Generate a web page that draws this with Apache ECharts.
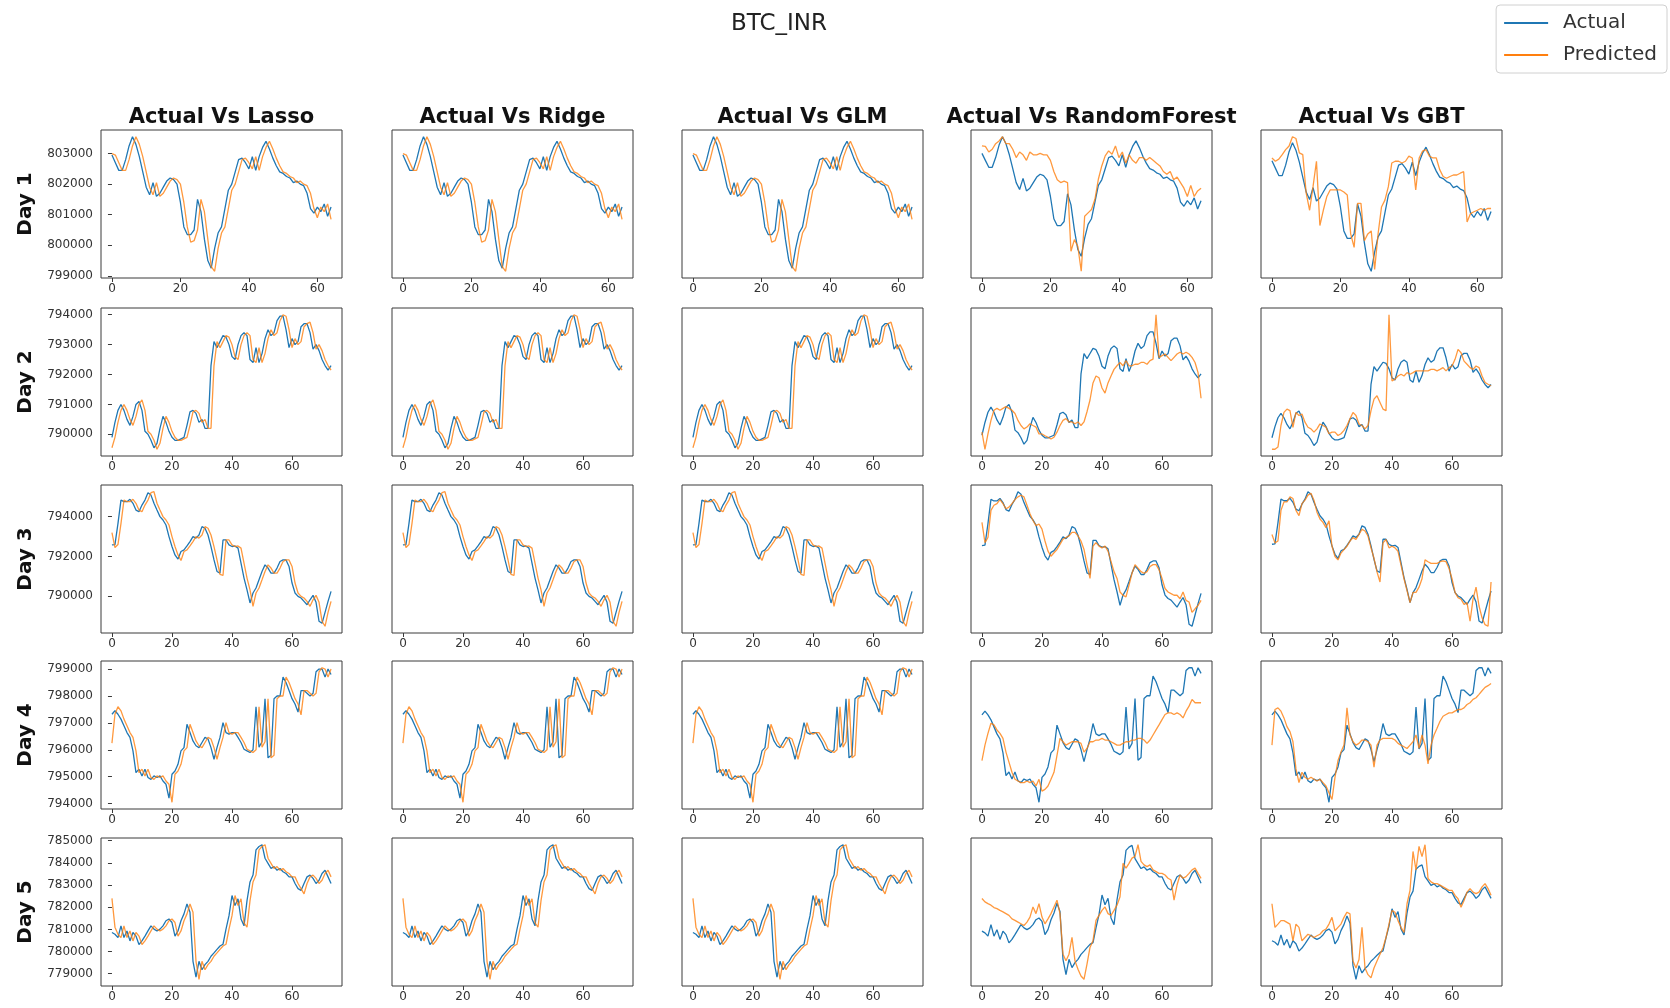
<!DOCTYPE html>
<html><head><meta charset="utf-8">
<script src="https://cdn.jsdelivr.net/npm/echarts@6/dist/echarts.min.js"></script>
<style>html,body{margin:0;padding:0;background:#fff}#c{width:1670px;height:1008px}</style>
</head><body><div id="c"></div><script>
const chartTitle = 'BTC_INR';
const days = ['Day 1', 'Day 2', 'Day 3', 'Day 4', 'Day 5'];
const models = ['Lasso', 'Ridge', 'GLM', 'RandomForest', 'GBT'];
const xTicks = [0, 20, 40, 60];
const yTicks = [
  [799000, 800000, 801000, 802000, 803000],
  [790000, 791000, 792000, 793000, 794000],
  [790000, 792000, 794000],
  [794000, 795000, 796000, 797000, 798000, 799000],
  [779000, 780000, 781000, 782000, 783000, 784000, 785000]
];

const actualDay1 = [802950, 802700, 802450, 802450, 802800, 803250, 803550, 803300, 802900, 802400,
 801900, 801650, 802050, 801600, 801700, 801900, 802100, 802200, 802150, 802000,
 801400, 800600, 800350, 800350, 800500, 801500, 801100, 800200, 799500, 799250,
 799900, 800400, 800600, 801200, 801800, 802000, 802400, 802800, 802850, 802700,
 802500, 802900, 802450, 802900, 803200, 803400, 803150, 802850, 802600, 802400,
 802350, 802250, 802200, 802050, 802100, 802000, 801950, 801700, 801200, 801050,
 801250, 801100, 801350, 800950, 801250];
const linearDay1 = [803000, 802950, 802700, 802450, 802450, 802800, 803250, 803550, 803300, 802900,
 802400, 801900, 801650, 802050, 801600, 801700, 801900, 802100, 802200, 802150,
 802000, 801400, 800600, 800100, 800150, 800500, 801500, 801100, 800200, 799300,
 799150, 799900, 800400, 800600, 801200, 801800, 802000, 802400, 802800, 802850,
 802700, 802500, 802900, 802450, 802900, 803200, 803400, 803150, 802850, 802600,
 802400, 802350, 802250, 802200, 802050, 802100, 802000, 801950, 801700, 801200,
 800900, 801250, 801100, 801350, 800850];
const rfDay1 = [803220, 803200, 803000, 803100, 803300, 803400, 803550, 803300, 803300, 803100,
 802800, 803000, 802900, 802700, 803000, 802900, 802900, 802950, 802900, 802900,
 802700, 802300, 802000, 801900, 801950, 801900, 799430, 799850, 799610, 798710,
 800690, 800810, 800930, 801300, 802020, 802500, 802860, 803040, 802920, 803220,
 802800, 803000, 802600, 802900, 802700, 802600, 802800, 802800, 802700, 802800,
 802700, 802600, 802500, 802300, 802200, 802300, 802000, 802100, 801900, 801700,
 801400, 801800, 801400, 801600, 801700];
const gbtDay1 = [803040, 802930, 803000, 803150, 803320, 803440, 803750, 803690, 803210, 803150,
 801860, 801290, 802080, 802930, 800780, 801290, 801740, 801970, 801970, 801970,
 801970, 801900, 801800, 800500, 800050, 801520, 801520, 800270, 800500, 800600,
 799310, 800500, 801400, 801630, 802080, 802870, 802930, 802930, 802870, 802930,
 803100, 803040, 801970, 803040, 803270, 803320, 803100, 803040, 803040, 802650,
 802420, 802360, 802420, 802470, 802470, 802530, 802580, 800900, 801180, 801240,
 801290, 801350, 801290, 801350, 801350];

const actualDay2 = [789900, 790400, 790800, 791000, 790800, 790500, 790300, 790600, 791000, 791100,
 790800, 790100, 790000, 789800, 789550, 789700, 790200, 790600, 790400, 790100,
 789900, 789800, 789800, 789850, 789900, 790300, 790750, 790800, 790700, 790400,
 790500, 790200, 790200, 792300, 793100, 792900, 793100, 793300, 793250, 793000,
 792600, 792500, 793000, 793300, 793400, 793300, 792500, 792400, 792900, 792400,
 792700, 793200, 793500, 793300, 793400, 793800, 793950, 793950, 793500, 792900,
 793200, 793000, 793100, 793600, 793700, 793700, 793400, 792850, 793000, 792800,
 792500, 792300, 792150, 792300];
const linearDay2 = [789550, 789900, 790400, 790800, 791000, 790800, 790500, 790300, 790600, 791000,
 791150, 790800, 790100, 790000, 789800, 789500, 789700, 790200, 790600, 790400,
 790100, 789900, 789800, 789800, 789850, 789900, 790300, 790750, 790800, 790700,
 790400, 790500, 790200, 790200, 792300, 793100, 792900, 793100, 793300, 793250,
 793000, 792600, 792500, 793000, 793300, 793400, 793300, 792500, 792400, 792900,
 792400, 792700, 793200, 793500, 793300, 793400, 793800, 794000, 793950, 793500,
 792900, 793200, 793000, 793100, 793600, 793700, 793750, 793400, 792850, 793000,
 792800, 792500, 792300, 792150];
const rfDay2 = [790020, 789350, 789950, 790480, 790880, 790950, 790880, 790950, 791020, 790950,
 790880, 790750, 790480, 790280, 790150, 790220, 790350, 790280, 790220, 789950,
 789950, 789880, 789820, 789750, 789820, 790020, 790280, 790480, 790550, 790420,
 790420, 790350, 790420, 790280, 790420, 790820, 791280, 791950, 792220, 792150,
 791750, 791550, 791950, 792220, 792480, 792620, 792750, 792620, 792820, 792620,
 792620, 792680, 792680, 792750, 792750, 792680, 792820, 792880, 794620, 792950,
 793020, 793080, 792950, 792820, 792950, 793080, 793150, 793080, 793150, 793080,
 792950, 792750, 792350, 791350];
const gbtDay2 = [789380, 789380, 789480, 790450, 791040, 791190, 791120, 790370, 791040, 790900,
 790970, 790600, 790370, 790300, 790150, 790300, 790520, 790450, 790370, 790080,
 790150, 790150, 790000, 790080, 790230, 790450, 790750, 791040, 790900, 790520,
 790450, 790300, 790450, 791120, 791640, 791790, 791490, 791190, 791120, 795440,
 792460, 792540, 792680, 792760, 792680, 792830, 792760, 792830, 792910, 792910,
 792910, 792910, 792910, 792980, 792980, 792910, 792980, 793060, 792910, 793060,
 793130, 793430, 793880, 793730, 793350, 793210, 793060, 792980, 793130, 793060,
 792680, 792390, 792310, 792240];

const actualDay3 = [792580, 792600, 793650, 794830, 794750, 794750, 794870, 794670, 794330, 794250,
 794580, 794830, 795200, 795080, 794670, 794330, 794000, 793830, 793580, 793000,
 792500, 792080, 791870, 792250, 792330, 792530, 792750, 793000, 792920, 793080,
 793500, 793420, 793080, 792500, 791830, 791250, 791170, 792830, 792830, 792580,
 792500, 792530, 792420, 791670, 790920, 790330, 789670, 790170, 790420, 790830,
 791250, 791580, 791420, 791170, 791170, 791420, 791750, 791830, 791830, 791500,
 790670, 790170, 790000, 789920, 789750, 789580, 789830, 790050, 789700, 788750,
 788650, 789200, 789750, 790250];
const linearDay3 = [793200, 792450, 792600, 793650, 794830, 794750, 794750, 794870, 794670, 794330,
 794250, 794580, 794830, 795200, 795250, 794670, 794330, 794000, 793830, 793580,
 793000, 792500, 792080, 791800, 792250, 792330, 792530, 792750, 793000, 792920,
 793080, 793500, 793420, 793080, 792500, 791830, 791100, 791050, 792830, 792830,
 792580, 792500, 792530, 792420, 791670, 790920, 790330, 789500, 790170, 790420,
 790830, 791250, 791580, 791420, 791170, 791170, 791420, 791750, 791830, 791830,
 791500, 790670, 790170, 790000, 789920, 789750, 789500, 789830, 790050, 789700,
 788750, 788500, 789200, 789750];
const rfDay3 = [793710, 792720, 792970, 794290, 794540, 794620, 794820, 794620, 794370, 794450,
 794620, 794820, 794950, 795030, 794950, 794540, 794130, 793800, 793550, 793630,
 793380, 792800, 792310, 792060, 792230, 792390, 792640, 792890, 792970, 793050,
 793220, 793220, 793050, 792800, 792390, 791650, 790980, 792550, 792720, 792550,
 792470, 792550, 792310, 791810, 791310, 790980, 790320, 790160, 790080, 790650,
 791230, 791650, 791480, 791310, 791230, 791310, 791560, 791650, 791650, 791400,
 790980, 790490, 790320, 790240, 790160, 790160, 789990, 790320, 789910, 789830,
 789330, 789500, 789660, 789910];
const gbtDay3 = [793070, 792650, 792740, 794270, 794690, 794690, 794950, 794860, 794270, 794010,
 794610, 794780, 795030, 795120, 794780, 794180, 793840, 793670, 793410, 793750,
 792480, 791970, 791800, 792140, 792310, 792480, 792740, 792910, 792820, 793070,
 793330, 793240, 792990, 792400, 791880, 791200, 790700, 792650, 792820, 792400,
 792480, 792400, 792230, 791540, 790860, 790270, 789670, 790180, 790180, 790440,
 790860, 791800, 791710, 791630, 791630, 791630, 791710, 791750, 791710, 791370,
 790860, 790180, 789920, 789840, 789580, 789670, 788740, 789840, 790440, 789500,
 788910, 788570, 788490, 790700];

const actualDay4 = [797320, 797450, 797320, 797140, 796890, 796640, 796460, 795960, 795150, 795280,
 795030, 795280, 794970, 794900, 795030, 794970, 795030, 794840, 794720, 794200,
 795090, 795210, 795460, 795960, 796080, 796950, 796640, 796330, 796150, 796080,
 796270, 796460, 796400, 796080, 795650, 796080, 796460, 797010, 796640, 796580,
 796640, 796640, 796460, 796270, 796020, 795960, 795900, 796000, 797600, 796100,
 796300, 797900, 795700, 795800, 797900, 798000, 798000, 798700, 798500, 798200,
 797900, 797700, 797400, 798200, 798200, 798100, 798000, 798100, 798900, 799000,
 799000, 798700, 799000, 798800];
const linearDay4 = [796250, 797320, 797600, 797450, 797140, 796890, 796640, 796460, 795960, 795150,
 795280, 795030, 795280, 794970, 794900, 795030, 794970, 795030, 794840, 794720,
 794050, 795090, 795210, 795460, 795960, 796080, 796950, 796640, 796330, 796150,
 796080, 796270, 796460, 796400, 796080, 795650, 796080, 796460, 797010, 796640,
 796580, 796640, 796640, 796460, 796270, 796020, 795960, 795900, 796000, 797600,
 796100, 796300, 797900, 795700, 795800, 797900, 798000, 798000, 798700, 798500,
 798200, 797900, 797700, 797300, 798200, 798200, 798100, 798000, 798100, 798900,
 799050, 799000, 798700, 799000];
const rfDay4 = [795690, 796240, 796660, 797020, 796960, 796780, 796660, 796480, 795990, 795630,
 795270, 795020, 794960, 794900, 794900, 794960, 794900, 794960, 794780, 795020,
 794600, 794660, 794780, 795020, 795270, 795870, 796480, 796360, 796240, 796300,
 796360, 796360, 796360, 796300, 795990, 796120, 796360, 796360, 796420, 796420,
 796480, 796420, 796420, 796360, 796300, 796240, 796240, 796300, 796360, 796360,
 796420, 796420, 796480, 796480, 796420, 796300, 796420, 796600, 796780, 796960,
 797150, 797330, 797390, 797390, 797330, 797390, 797330, 797210, 797450, 797630,
 797870, 797750, 797750, 797750];
const gbtDay4 = [796240, 797510, 797570, 797450, 797210, 796900, 796720, 796360, 795390, 794900,
 795270, 795090, 795020, 795090, 795020, 794960, 795020, 794900, 794780, 794540,
 794300, 795090, 795690, 795990, 796240, 797570, 796600, 796360, 796240, 796300,
 796420, 796420, 796360, 796240, 795450, 796240, 796420, 796480, 796480, 796480,
 796480, 796420, 796300, 796240, 796180, 796120, 796240, 796360, 796600, 796120,
 796600, 796240, 795570, 796240, 796600, 796840, 797090, 797270, 797330, 797390,
 797390, 797450, 797510, 797510, 797570, 797690, 797750, 797870, 797930, 798050,
 798180, 798300, 798360, 798440];

const actualDay5 = [780860, 780780, 780630, 781160, 780630, 780930, 780480, 780860, 780700, 780320,
 780480, 780700, 780930, 781160, 781010, 780930, 781010, 781160, 781390, 781470,
 781310, 780700, 780930, 781390, 781700, 782150, 781770, 779560, 778850, 779560,
 779180, 779410, 779560, 779790, 779940, 780100, 780250, 780330, 781010, 781620,
 782530, 782080, 782380, 781470, 781160, 782300, 783140, 783450, 784590, 784740,
 784820, 784210, 783980, 783750, 783830, 783670, 783750, 783600, 783520, 783370,
 783370, 783070, 782840, 782760, 783070, 783370, 783450, 783300, 783070, 783220,
 783520, 783670, 783370, 783070];
const linearDay5 = [782400, 781100, 780780, 780630, 781160, 780630, 780930, 780480, 780860, 780700,
 780320, 780480, 780700, 780930, 781160, 781010, 780930, 781010, 781160, 781390,
 781470, 781310, 780700, 780930, 781390, 781700, 782150, 781770, 779560, 778750,
 779560, 779180, 779410, 779560, 779790, 779940, 780100, 780250, 780330, 781010,
 781620, 782530, 782080, 782380, 781300, 781100, 782300, 783140, 783450, 784590,
 784740, 784820, 784210, 783980, 783750, 783830, 783670, 783750, 783600, 783520,
 783370, 783370, 783070, 782840, 782600, 783070, 783370, 783450, 783300, 783070,
 783220, 783520, 783670, 783370];
const rfDay5 = [782370, 782210, 782130, 782060, 781950, 781900, 781820, 781750, 781670, 781590,
 781430, 781360, 781280, 781200, 781120, 781280, 781510, 781980, 781670, 782130,
 781510, 781200, 781430, 781670, 781980, 782290, 781670, 779800, 779490, 779800,
 780580, 779490, 779100, 778790, 778640, 779340, 780110, 780420, 781360, 781590,
 781820, 781980, 781670, 781590, 781820, 782060, 782450, 783990, 783770, 783990,
 784230, 784310, 784850, 784080, 783920, 783840, 783920, 783690, 783610, 783530,
 783530, 783450, 783300, 783220, 782290, 782990, 783450, 783300, 783380, 783530,
 783690, 783770, 783530, 783300];
const gbtDay5 = [782790, 781560, 781730, 781910, 781910, 781820, 781730, 780850, 781730, 781560,
 780850, 781030, 781200, 781120, 781030, 781120, 781200, 781380, 781470, 781730,
 782080, 781380, 781560, 781730, 782080, 782350, 782260, 779800, 779440, 779880,
 781560, 779440, 779090, 778920, 779440, 779800, 780150, 780500, 781030, 781730,
 782440, 782350, 781910, 781560, 781290, 782790, 783490, 785520, 784550, 785780,
 785250, 785870, 784110, 783930, 783840, 783840, 783760, 783670, 783580, 783490,
 783490, 783230, 783050, 782610, 782960, 783400, 783580, 783400, 783320, 783400,
 783670, 783840, 783580, 783230];

const actual = [actualDay1, actualDay2, actualDay3, actualDay4, actualDay5];
const linear = [linearDay1, linearDay2, linearDay3, linearDay4, linearDay5];
const rf = [rfDay1, rfDay2, rfDay3, rfDay4, rfDay5];
const gbt = [gbtDay1, gbtDay2, gbtDay3, gbtDay4, gbtDay5];
const predictions = [linear, linear, linear, rf, gbt];

const colLeft = [101, 392, 682, 971, 1261];
const rowTop = [130, 308, 485, 661, 838];
const W = 241, H = 148;
const FONT = 'DejaVu Sans';
const BLUE = '#1f77b4', ORANGE = '#ff7f0e';

const grid = [], xAxis = [], yAxis = [], series = [], graphic = [];
days.forEach((d, r) => {
  models.forEach((m, c) => {
    const k = r * 5 + c;
    const act = actual[r];
    const pred = predictions[c][r];
    const n = act.length;
    grid.push({left: colLeft[c], top: rowTop[r], width: W, height: H, show: true,
      borderColor: '#3a3a3a', borderWidth: 1, backgroundColor: '#fff'});
    xAxis.push({gridIndex: k, type: 'value', min: -(n - 1) * 0.05, max: (n - 1) * 1.05,
      splitLine: {show: false}, axisLine: {show: false},
      axisTick: {show: true, length: 4, lineStyle: {color: '#3a3a3a'}, customValues: xTicks},
      axisLabel: {customValues: xTicks, fontSize: 12, color: '#333', margin: 5, fontFamily: FONT}});
    yAxis.push({gridIndex: k, type: 'value',
      min: v => v.min - (v.max - v.min) * 0.05,
      max: v => v.max + (v.max - v.min) * 0.05,
      splitLine: {show: false}, axisLine: {show: false},
      axisTick: {show: c === 0, length: 4, lineStyle: {color: '#3a3a3a'}, customValues: yTicks[r]},
      axisLabel: {show: c === 0, customValues: yTicks[r], formatter: v => String(v),
        fontSize: 12, color: '#333', margin: 8, fontFamily: FONT}});
    series.push({name: 'Actual', type: 'line', xAxisIndex: k, yAxisIndex: k,
      data: act.map((v, i) => [i, v]), symbol: 'none', showSymbol: false, silent: true,
      lineStyle: {width: 1.3, color: BLUE}, itemStyle: {color: BLUE}, z: 2});
    series.push({name: 'Predicted', type: 'line', xAxisIndex: k, yAxisIndex: k,
      data: pred.map((v, i) => [i, v]), symbol: 'none', showSymbol: false, silent: true,
      lineStyle: {width: 1.3, color: ORANGE, opacity: 0.8}, itemStyle: {color: ORANGE}, z: 3});
    if (r === 0) {
      graphic.push({type: 'text', x: colLeft[c] + W / 2, y: 118,
        style: {text: 'Actual Vs ' + m, font: 'bold 21px "DejaVu Sans"', fill: '#111',
          textAlign: 'center', textVerticalAlign: 'middle'}});
    }
  });
  graphic.push({type: 'text', x: 26, y: rowTop[r] + H / 2, rotation: Math.PI / 2,
    style: {text: d, font: 'bold 20px "DejaVu Sans"', fill: '#111',
      textAlign: 'center', textVerticalAlign: 'middle'}});
});
graphic.push({type: 'text', x: 779, y: 24,
  style: {text: chartTitle, font: '23px "DejaVu Sans"', fill: '#222',
    textAlign: 'center', textVerticalAlign: 'middle'}});

const chart = echarts.init(document.getElementById('c'));
chart.setOption({
  animation: false,
  backgroundColor: '#fff',
  legend: {data: [{name: 'Actual', icon: 'rect'}, {name: 'Predicted', icon: 'rect'}],
    orient: 'vertical', right: 3, top: 5,
    itemWidth: 44, itemHeight: 2, itemGap: 12, padding: [8, 10, 8, 8],
    borderColor: '#d0d0d0', borderWidth: 1, borderRadius: 4, backgroundColor: '#fff',
    textStyle: {fontSize: 20, fontFamily: FONT, color: '#333', padding: [0, 0, 0, 10]}},
  grid, xAxis, yAxis, series, graphic
});
</script></body></html>
